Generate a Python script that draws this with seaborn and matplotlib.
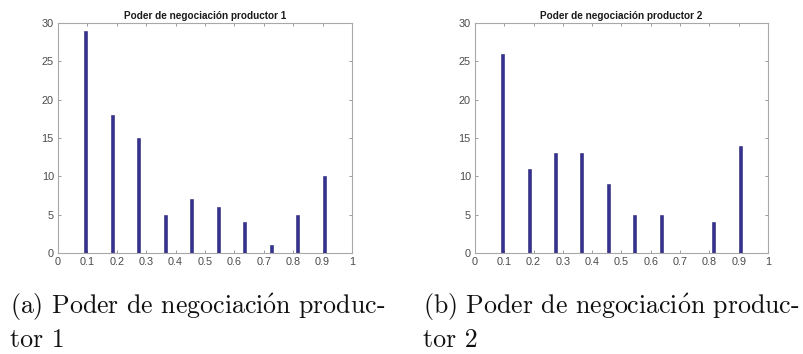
import numpy as np
import pandas as pd
import matplotlib
matplotlib.use("Agg")
import matplotlib.pyplot as plt
import seaborn as sns

# Data
bin_centers = [0.095, 0.185, 0.275, 0.365, 0.455, 0.545, 0.635, 0.725, 0.815, 0.905]
counts_p1 = [29, 18, 15, 5, 7, 6, 4, 1, 5, 10]
counts_p2 = [26, 11, 13, 13, 9, 5, 5, 0, 4, 14]
titles = ["Poder de negociación productor 1", "Poder de negociación productor 2"]
caption_line1 = [r"(a) Poder de negociaci$\mathrm{\acute{o}}$n produc-",
                 r"(b) Poder de negociaci$\mathrm{\acute{o}}$n produc-"]
caption_line2 = ["tor 1", "tor 2"]
xticks = [0, 0.1, 0.2, 0.3, 0.4, 0.5, 0.6, 0.7, 0.8, 0.9, 1]
yticks = [0, 5, 10, 15, 20, 25, 30]

sns.set_theme(style="white")
plt.rcParams["font.family"] = ["Liberation Sans", "DejaVu Sans"]
plt.rcParams["mathtext.fontset"] = "cm"

fig = plt.figure(figsize=(8.04, 3.54), dpi=100)
W, H = 804, 354
axes_px = [(58, 23, 352, 253), (475, 23, 768, 253)]
bar_color = "#34318f"

for i, (counts, (l, t, r, b)) in enumerate(zip([counts_p1, counts_p2], axes_px)):
    ax = fig.add_axes([l / W, 1 - b / H, (r - l) / W, (b - t) / H])
    df = pd.DataFrame({"x": bin_centers, "y": counts})
    sns.barplot(data=df, x="x", y="y", native_scale=True, width=0.11,
                color=bar_color, saturation=1, edgecolor="#2a2878",
                linewidth=0.4, ax=ax)
    ax.set_xlim(0, 1)
    ax.set_ylim(0, 30)
    ax.set_xticks(xticks)
    ax.set_xticklabels([f"{v:g}" for v in xticks])
    ax.set_yticks(yticks)
    ax.set_xlabel("")
    ax.set_ylabel("")
    ax.tick_params(direction="in", length=2.5, width=0.6, color="#8a8a8a",
                   labelsize=7.8, labelcolor="#4a4a4a", pad=3,
                   top=True, right=True, bottom=True, left=True)
    for s in ax.spines.values():
        s.set_visible(True)
        s.set_color("#a8a8a8")
        s.set_linewidth(0.8)
    ax.set_title(titles[i], fontsize=7.2, fontweight="bold", color="#1a1a1a", pad=3)

cap_x = [10 / W, 423 / W]
for i in range(2):
    fig.text(cap_x[i], 1 - 314 / H, caption_line1[i], ha="left", va="baseline",
             fontsize=18.6, family="cmr10", color="#111111")
    fig.text(cap_x[i], 1 - 347 / H, caption_line2[i], ha="left", va="baseline",
             fontsize=18.6, family="cmr10", color="#111111")

fig.savefig("out.png", dpi=100)
